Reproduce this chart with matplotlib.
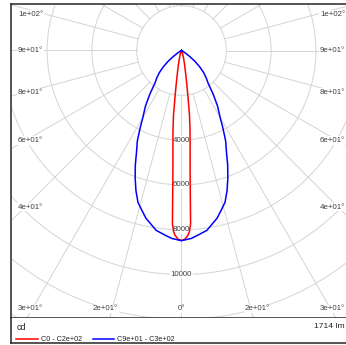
import numpy as np
import matplotlib
matplotlib.use('Agg')
import matplotlib.pyplot as plt
from matplotlib.patches import Circle

plt.rcParams['font.family'] = ['Liberation Sans', 'DejaVu Sans']

# luminous intensity (cd) against gamma angle from nadir (deg)
gamma_c0 = [0, 1, 2, 2.5, 3, 4, 5, 6, 7, 8, 9, 10, 12, 14, 16, 18, 20, 25, 30, 40, 60, 90]
cd_c0 = [8480, 8430, 8250, 8100, 7750, 5500, 4400, 3650, 2950, 2050, 1500, 1100,
         700, 440, 280, 180, 110, 40, 15, 5, 0, 0]
gamma_c90 = [0, 3, 5, 8, 10, 12, 14, 16, 18, 20, 22, 24, 26, 28, 30, 33, 36, 39,
             42, 45, 48, 51, 54, 57, 60, 65, 70, 90]
cd_c90 = [8490, 8400, 8280, 8110, 7870, 7650, 7340, 7050, 6580, 6050, 5500, 4930,
          4500, 3950, 3450, 2950, 2400, 1900, 1650, 1400, 1100, 780, 450, 200, 80,
          20, 0, 0]

planes = [(0, 180), (90, 270)]
plane_colors = ['#ff0000', '#0000ff']
rings = [2000, 4000, 6000, 8000, 10000, 12000, 14000, 16000]
ring_labels = [4000, 6000, 8000, 10000]
angle_ticks = [0, 15, 30, 45, 60, 75, 90, 105]
flux_lm = 1714

# layout (pixels of the 346x345 picture)
W, H = 346, 345
CX, CY = 181.5, 50.5          # polar origin
PX = 44.64                    # cd per pixel
BOX_L, BOX_R, BOX_T, BOX_B, LEG_B = 11.5, 350, 3.5, 318, 342.5
GRID = '#d4d4d4'
FRAME = '#262626'
TXT = '#404040'


def half_curve(gammas, values, side):
    g = np.radians(gammas)
    v = np.asarray(values, dtype=float)
    return side * v * np.sin(g), -v * np.cos(g)


def angle_label_pos(g, side):
    """Where the ray meets the label frame, kept inside the box (pixel offsets)."""
    dx = side * np.sin(np.radians(g))
    dy = np.cos(np.radians(g))
    t = []
    if abs(dx) > 1e-9:
        t.append(156.5 / abs(dx))
    if dy > 1e-9:
        t.append(283.5 / dy)
    if dy < -1e-9:
        t.append(47 / -dy)
    s = min(t)
    x = np.clip(s * dx, -151, 151)
    y = np.clip(s * dy, -36.5, 258.5)
    return x * PX, -y * PX


fig = plt.figure(figsize=(W / 100, H / 100), dpi=100)
ax = fig.add_axes([BOX_L / W, (H - BOX_B) / H, (BOX_R - BOX_L) / W, (BOX_B - BOX_T) / H])
ax.set_xlim((BOX_L - CX) * PX, (BOX_R - CX) * PX)
ax.set_ylim(-(BOX_B - CY) * PX, (CY - BOX_T) * PX)
ax.set_xticks([])
ax.set_yticks([])
for sp in ax.spines.values():
    sp.set_color(FRAME)
    sp.set_linewidth(1.1)

# grid
for r in rings:
    ax.add_patch(Circle((0, 0), r, fill=False, ec=GRID, lw=0.7, zorder=1))
for k in range(24):
    a = np.radians(k * 15)
    ax.plot([2000 * np.sin(a), 30000 * np.sin(a)], [-2000 * np.cos(a), -30000 * np.cos(a)],
            color=GRID, lw=0.7, zorder=1)

# angle labels
for g in angle_ticks:
    sides = [1] if g == 0 else [-1, 1]
    for side in sides:
        x, y = angle_label_pos(g, side)
        ax.text(x, y, f'{g:.0g}°', ha='center', va='center', fontsize=5.7, color=TXT,
                zorder=2, bbox=dict(fc='white', ec='none', pad=0.6))

# intensity labels
for r in ring_labels:
    ax.text(0, -r, f'{r}', ha='center', va='center', fontsize=5.7, color=TXT, zorder=2,
            bbox=dict(fc='white', ec='none', pad=0.3))

# curves
lines = []
for (c1, c2), gam, val, col in zip(planes, [gamma_c0, gamma_c90], [cd_c0, cd_c90], plane_colors):
    xr, yr = half_curve(gam, val, 1)
    xl, yl = half_curve(gam, val, -1)
    xs = np.concatenate([xl[::-1], xr])
    ys = np.concatenate([yl[::-1], yr])
    ln, = ax.plot(xs, ys, color=col, lw=1.1, zorder=3, label=f'C{c1:.0g} - C{c2:.0g}')
    lines.append(ln)

# bottom strip with unit, flux and legend
lax = fig.add_axes([BOX_L / W, (H - LEG_B) / H, (BOX_R - BOX_L) / W, (LEG_B - BOX_B) / H])
lax.set_xlim(0, BOX_R - BOX_L)
lax.set_ylim(LEG_B - BOX_B, 0)
lax.set_xticks([])
lax.set_yticks([])
for sp in lax.spines.values():
    sp.set_color(FRAME)
    sp.set_linewidth(1.1)
lax.spines['top'].set_visible(False)
lax.text(5.5, 9, 'cd', ha='left', va='center', fontsize=6.4, color='#222222')
lax.text(333.5, 9, f'{flux_lm} lm', ha='right', va='center', fontsize=6.1, color='#222222')
lax.legend(handles=lines, loc='center left', bbox_to_anchor=(4.5, 21.8), bbox_transform=lax.transData,
           ncol=2, frameon=False, fontsize=5.2, handlelength=3.0, handletextpad=0.45,
           columnspacing=1.45, borderpad=0, borderaxespad=0, labelcolor='#222222')

fig.savefig('out.png', dpi=100)
